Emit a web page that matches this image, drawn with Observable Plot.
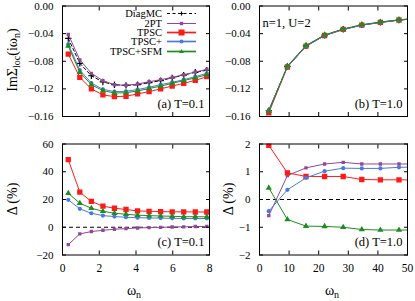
<!DOCTYPE html>
<html>
<head>
<meta charset="utf-8">
<script src="https://cdn.jsdelivr.net/npm/d3@7"></script>
<script src="https://cdn.jsdelivr.net/npm/@observablehq/plot@0.6"></script>
<style>
  html, body { margin: 0; padding: 0; background: white; }
  #chart { position: relative; width: 415px; height: 301px; font-family: "Liberation Serif", "Times New Roman", "DejaVu Serif", serif; color: black; overflow: hidden; }
  .pane { position: absolute; }
  .lab { position: absolute; font-family: "Liberation Serif", "Times New Roman", serif; font-size: 14px; white-space: nowrap; transform: translate(-50%, -50%); }
  .rot { transform: translate(-50%, -50%) rotate(-90deg); }
  .lab sub { font-size: 10px; vertical-align: -3px; line-height: 0; }
  #legend { position: absolute; font-family: "Liberation Serif", "Times New Roman", serif; font-size: 10.5px; }
  #legend .row { position: absolute; right: 0; display: flex; align-items: center; white-space: nowrap; height: 9px; line-height: 9px; }
</style>
</head>
<body>
<div id="chart"></div>
<script>
// ---------------- data ----------------
const seriesNames = ["DiagMC", "2PT", "TPSC", "TPSC+", "TPSC+SFM"];
const seriesColors = ["#000000", "#92479a", "#ff1a1a", "#4a78e0", "#1e8c1e"];

// Matsubara frequencies (T=0.1 and T=1.0)
const wLow = [0.314, 0.942, 1.571, 2.199, 2.827, 3.456, 4.084, 4.712, 5.341, 5.969, 6.597, 7.226, 7.854];
const wHigh = [3.142, 9.425, 15.708, 21.991, 28.274, 34.558, 40.841, 47.124, 53.407];

// (a) Im Sigma_loc, T = 0.1
const aDiagMC = [-0.047, -0.083, -0.101, -0.110, -0.114, -0.115, -0.114, -0.111, -0.108, -0.104, -0.100, -0.096, -0.093];
const a2PT    = [-0.041, -0.078, -0.0975, -0.108, -0.114, -0.1148, -0.113, -0.1096, -0.1067, -0.1033, -0.0995, -0.0956, -0.0918];
const aTPSC   = [-0.0697, -0.1033, -0.120, -0.1288, -0.1312, -0.1307, -0.1273, -0.124, -0.120, -0.1158, -0.112, -0.1077, -0.1023];
const aTPSCp  = [-0.0553, -0.0927, -0.1115, -0.1206, -0.124, -0.1235, -0.121, -0.1177, -0.1139, -0.1105, -0.1067, -0.1023, -0.0975];
const aSFM    = [-0.058, -0.096, -0.114, -0.1225, -0.126, -0.1255, -0.123, -0.1195, -0.116, -0.112, -0.108, -0.104, -0.0995];

// (b) Im Sigma_loc, T = 1.0
const bDiagMC = [-0.1517, -0.0875, -0.0577, -0.0423, -0.0336, -0.0274, -0.0235, -0.0202, -0.0178];
const b2PT    = [-0.1508, -0.0883, -0.0584, -0.0428, -0.0340, -0.0278, -0.0238, -0.0205, -0.0180];
const bTPSC   = [-0.1547, -0.0883, -0.0582, -0.0427, -0.0339, -0.0276, -0.0237, -0.0203, -0.0179];
const bTPSCp  = [-0.1511, -0.0878, -0.0581, -0.0427, -0.0340, -0.0277, -0.0238, -0.0204, -0.0180];
const bSFM    = [-0.1523, -0.0869, -0.0571, -0.0419, -0.0333, -0.0271, -0.0232, -0.0200, -0.0176];

// (c) relative deviation (%), T = 0.1
const c2PT   = [-12.5, -4.8, -3.1, -2.2, -1.4, -1.0, -0.5, -0.3, -0.1, 0.2, 0.3, 0.5, 0.6];
const cTPSC  = [48.7, 25.3, 18.6, 15.2, 13.7, 12.8, 11.8, 11.5, 11.3, 11.1, 11.1, 11.0, 11.0];
const cTPSCp = [19.8, 13.3, 10.1, 8.4, 7.7, 7.2, 6.9, 6.7, 6.6, 6.4, 6.3, 6.3, 6.3];
const cSFM   = [24.5, 17.3, 13.7, 11.5, 10.1, 9.4, 8.7, 8.4, 8.1, 7.9, 7.6, 7.6, 7.5];

// (d) relative deviation (%), T = 1.0
const d2PT   = [-0.58, 0.86, 1.14, 1.28, 1.34, 1.28, 1.28, 1.28, 1.28];
const dTPSC  = [1.95, 0.96, 0.83, 0.83, 0.83, 0.72, 0.71, 0.71, 0.70];
const dTPSCp = [-0.42, 0.35, 0.78, 1.02, 1.13, 1.12, 1.12, 1.16, 1.17];
const dSFM   = [0.42, -0.72, -0.96, -0.97, -1.0, -1.08, -1.1, -1.1, -1.1];

// tick values
const xTicksLow = [0, 2, 4, 6, 8];
const xTicksHigh = [0, 10, 20, 30, 40, 50];
const yTicksSigma = [0, -0.04, -0.08, -0.12, -0.16];
const yTicksC = [-20, 0, 20, 40, 60];
const yTicksD = [-2, -1, 0, 1, 2];

// ---------------- helpers ----------------
const FONT = "'Liberation Serif', 'Times New Roman', serif";
function toRows(xs, ys, name) { return xs.map((x, i) => ({x, y: ys[i], name})); }

const markStyle = {
  "DiagMC":   {symbol: "plus", r: 2.2, fill: "none", stroke: "#000", strokeWidth: 1.2},
  "2PT":      {symbol: "square", r: 1.9, fill: seriesColors[1], stroke: "none"},
  "TPSC":     {symbol: "square", r: 3.0, fill: seriesColors[2], stroke: "none"},
  "TPSC+":    {symbol: "circle", r: 2.1, fill: seriesColors[3], stroke: "none"},
  "TPSC+SFM": {symbol: "triangle", r: 2.3, fill: seriesColors[4], stroke: "none"}
};

function seriesMarks(xs, list) {
  const out = [];
  for (const [name, ys] of list) {
    const rows = toRows(xs, ys, name);
    const color = seriesColors[seriesNames.indexOf(name)];
    out.push(Plot.line(rows, {x: "x", y: "y", stroke: color, strokeWidth: 1,
      strokeDasharray: name === "DiagMC" ? "3,2.5" : null, clip: true}));
    const s = markStyle[name];
    out.push(Plot.dot(rows, {x: "x", y: "y", symbol: () => s.symbol, r: s.r, fill: s.fill,
      stroke: s.stroke, strokeWidth: s.strokeWidth || 1, clip: true}));
  }
  return out;
}

function frameAxes(xTicks, yTicks, yFmt, showX) {
  const m = [
    Plot.axisX({ticks: xTicks, anchor: "bottom", tickSize: -4, tickFormat: () => "", label: null}),
    Plot.axisX({ticks: xTicks, anchor: "top", tickSize: -4, tickFormat: () => "", label: null}),
    Plot.axisY({ticks: yTicks, anchor: "left", tickSize: -4, tickFormat: () => "", label: null}),
    Plot.axisY({ticks: yTicks, anchor: "right", tickSize: -4, tickFormat: () => "", label: null}),
    Plot.axisY({ticks: yTicks, anchor: "left", tickSize: 0, tickPadding: 9, tickFormat: yFmt, label: null, fontSize: 11}),
    Plot.frame({stroke: "black", strokeWidth: 1})
  ];
  if (showX) m.push(Plot.axisX({ticks: xTicks, anchor: "bottom", tickSize: 0, tickPadding: 9,
    tickFormat: d3.format("d"), label: null, fontSize: 11.5}));
  return m;
}

function makePanel(o) {
  const svg = Plot.plot({
    width: o.width, height: o.height,
    marginLeft: o.ml, marginRight: o.mr, marginTop: o.mt, marginBottom: o.mb,
    x: {domain: o.xDomain},
    y: {domain: o.yDomain},
    style: {fontFamily: FONT, fontSize: "11px", color: "black", background: "transparent", overflow: "visible"},
    marks: [...o.pre, ...o.marks, ...frameAxes(o.xTicks, o.yTicks, o.yFmt, o.showX), ...o.post]
  });
  const div = document.createElement("div");
  div.className = "pane";
  div.style.left = o.left + "px";
  div.style.top = o.top + "px";
  div.appendChild(svg);
  document.getElementById("chart").appendChild(div);
}

const f2 = d3.format(".2f");
const fd = d3.format("d");
const panelText = (txt, anchor, dx, dy) =>
  Plot.text([txt], {text: d => d, frameAnchor: anchor, dx, dy, fontSize: 12.5,
    textAnchor: anchor.endsWith("right") ? "end" : "start", fill: "black"});

// (a)
makePanel({
  left: 0, top: 0, width: 210, height: 140, ml: 62, mr: 1, mt: 5.5, mb: 24,
  xDomain: [0, 8], yDomain: [-0.16, 0], xTicks: xTicksLow, yTicks: yTicksSigma, yFmt: f2, showX: false,
  pre: [],
  marks: seriesMarks(wLow, [["DiagMC", aDiagMC], ["2PT", a2PT], ["TPSC", aTPSC], ["TPSC+", aTPSCp], ["TPSC+SFM", aSFM]]),
  post: [panelText("(a) T=0.1", "bottom-right", -5, -9)]
});
// (b)
makePanel({
  left: 205, top: 0, width: 210, height: 140, ml: 54, mr: 8, mt: 5.5, mb: 24,
  xDomain: [0, 50], yDomain: [-0.16, 0], xTicks: xTicksHigh, yTicks: yTicksSigma, yFmt: f2, showX: false,
  pre: [],
  marks: seriesMarks(wHigh, [["DiagMC", bDiagMC], ["2PT", b2PT], ["TPSC", bTPSC], ["TPSC+", bTPSCp], ["TPSC+SFM", bSFM]]),
  post: [panelText("n=1, U=2", "top-left", 3, 12), panelText("(b) T=1.0", "bottom-right", -5, -9)]
});
// (c)
makePanel({
  left: 0, top: 138, width: 210, height: 163, ml: 62, mr: 1, mt: 5.5, mb: 46.5,
  xDomain: [0, 8], yDomain: [-20, 60], xTicks: xTicksLow, yTicks: yTicksC, yFmt: fd, showX: true,
  pre: [Plot.ruleY([0], {stroke: "black", strokeWidth: 1, strokeDasharray: "4,3"})],
  marks: seriesMarks(wLow, [["2PT", c2PT], ["TPSC", cTPSC], ["TPSC+", cTPSCp], ["TPSC+SFM", cSFM]]),
  post: [panelText("(c) T=0.1", "bottom-right", -5, -9)]
});
// (d)
makePanel({
  left: 205, top: 138, width: 210, height: 163, ml: 54, mr: 8, mt: 5.5, mb: 46.5,
  xDomain: [0, 50], yDomain: [-2, 2], xTicks: xTicksHigh, yTicks: yTicksD, yFmt: fd, showX: true,
  pre: [Plot.ruleY([0], {stroke: "black", strokeWidth: 1, strokeDasharray: "4,3"})],
  marks: seriesMarks(wHigh, [["2PT", d2PT], ["TPSC", dTPSC], ["TPSC+", dTPSCp], ["TPSC+SFM", dSFM]]),
  post: [panelText("(d) T=1.0", "bottom-right", -5, -9)]
});

// axis titles
const chart = document.getElementById("chart");
function addLabel(html, x, y, rot) {
  const d = document.createElement("div");
  d.className = "lab" + (rot ? " rot" : "");
  d.style.left = x + "px"; d.style.top = y + "px";
  d.innerHTML = html;
  chart.appendChild(d);
}
addLabel("ImΣ<sub>loc</sub>(iω<sub>n</sub>)", 13, 60, true);
addLabel("Δ (%)", 13, 199, true);
addLabel("Δ (%)", 229, 199, true);
addLabel("ω<sub>n</sub>", 134, 291, false);
addLabel("ω<sub>n</sub>", 332, 291, false);

// legend (panel a)
const legend = document.createElement("div");
legend.id = "legend";
legend.style.left = "60px"; legend.style.top = "0px"; legend.style.width = "136px"; legend.style.height = "60px";
const rowY = [13.7, 23, 32.3, 41.7, 51];
const swatch = {
  "DiagMC": `<line x1="0" y1="4.5" x2="29" y2="4.5" stroke="#000" stroke-dasharray="3,2.5"/><path d="M12.5,4.5h4M14.5,2.5v4" stroke="#000" stroke-width="1.2"/>`,
  "2PT": `<line x1="0" y1="4.5" x2="29" y2="4.5" stroke="${seriesColors[1]}"/><rect x="12.8" y="2.8" width="3.4" height="3.4" fill="${seriesColors[1]}"/>`,
  "TPSC": `<line x1="0" y1="4.5" x2="29" y2="4.5" stroke="${seriesColors[2]}" stroke-width="3" stroke-opacity="0.35"/><line x1="0" y1="4.5" x2="29" y2="4.5" stroke="${seriesColors[2]}"/><rect x="11.5" y="1.5" width="6" height="6" fill="${seriesColors[2]}"/>`,
  "TPSC+": `<line x1="0" y1="4.5" x2="29" y2="4.5" stroke="${seriesColors[3]}" stroke-width="3" stroke-opacity="0.35"/><line x1="0" y1="4.5" x2="29" y2="4.5" stroke="${seriesColors[3]}"/><circle cx="14.5" cy="4.5" r="2" fill="${seriesColors[3]}"/>`,
  "TPSC+SFM": `<line x1="0" y1="4.5" x2="29" y2="4.5" stroke="${seriesColors[4]}" stroke-width="3" stroke-opacity="0.35"/><line x1="0" y1="4.5" x2="29" y2="4.5" stroke="${seriesColors[4]}"/><path d="M14.5,2L16.8,6H12.2Z" fill="${seriesColors[4]}"/>`
};
seriesNames.forEach((name, i) => {
  const r = document.createElement("div");
  r.className = "row";
  r.style.top = (rowY[i] - 4.5) + "px";
  r.innerHTML = `<span>${name}</span><svg width="29" height="9" style="margin-left:5px">${swatch[name]}</svg>`;
  legend.appendChild(r);
});
chart.appendChild(legend);
</script>
</body>
</html>
